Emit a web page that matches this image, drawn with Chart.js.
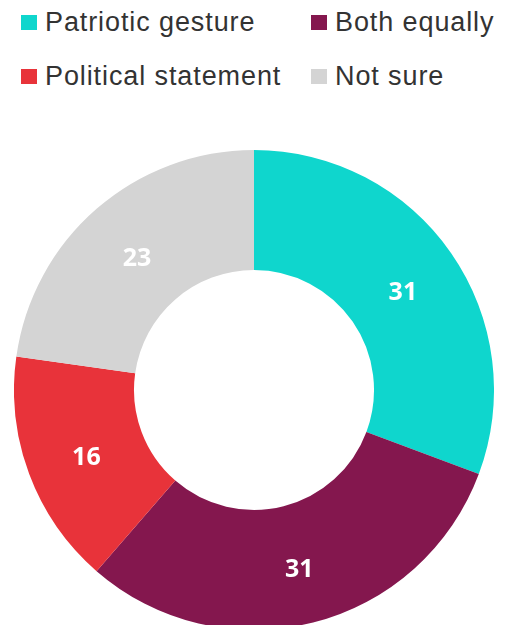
<!DOCTYPE html>
<html>
<head>
<meta charset="utf-8">
<script src="https://cdn.jsdelivr.net/npm/chart.js@4"></script>
<style>
  html, body { margin: 0; padding: 0; background: #fff; overflow: hidden; width: 506px; height: 625px; }
  #leyenda { position: absolute; left: 21px; top: 0; font-family: "Liberation Sans", Arial, sans-serif; font-size: 27px; letter-spacing: 0.9px; color: #333; }
  .item { position: absolute; white-space: nowrap; height: 30px; line-height: 30px; }
  .item span.cuadro { position: absolute; left: 0; top: 8px; width: 16px; height: 15px; }
  .item span.texto { position: absolute; left: 24px; top: 0; }
  #caja { position: absolute; left: 14px; top: 150px; width: 480px; height: 480px; }
</style>
</head>
<body>
<div id="leyenda"></div>
<div id="caja"><canvas id="graficoDona"></canvas></div>
<script>
// DATOS
const categorias = ['Patriotic gesture', 'Both equally', 'Political statement', 'Not sure'];
const valores = [31, 31, 16, 23];
const colores = ['#0fd6cd', '#84174e', '#e8333a', '#d4d4d4'];

// LEYENDA (dos columnas)
const posLeyenda = [[0, 7], [290, 7], [0, 61], [290, 61]];
document.getElementById('leyenda').innerHTML = categorias.map((c, i) =>
  `<div class="item" style="left:${posLeyenda[i][0]}px;top:${posLeyenda[i][1]}px">` +
  `<span class="cuadro" style="background:${colores[i]}"></span><span class="texto">${c}</span></div>`).join('');

// ETIQUETAS DENTRO DE LOS SEGMENTOS
const etiquetas = {
  id: 'etiquetas',
  afterDatasetsDraw(chart) {
    const ctx = chart.ctx;
    ctx.save();
    ctx.font = 'bold 25px "Open Sans", sans-serif';
    ctx.fillStyle = '#fff';
    ctx.textAlign = 'center';
    ctx.textBaseline = 'middle';
    chart.getDatasetMeta(0).data.forEach((arc, i) => {
      const p = arc.tooltipPosition();
      ctx.fillText(valores[i], p.x + 1, p.y + 5);
    });
    ctx.restore();
  }
};

new Chart(document.getElementById('graficoDona'), {
  type: 'doughnut',
  data: {
    labels: categorias,
    datasets: [{ data: valores, backgroundColor: colores, borderWidth: 0 }]
  },
  options: {
    responsive: true,
    maintainAspectRatio: false,
    animation: false,
    cutout: '50%',
    layout: { padding: 0 },
    plugins: { legend: { display: false }, tooltip: { enabled: false } }
  },
  plugins: [etiquetas]
});
</script>
</body>
</html>
